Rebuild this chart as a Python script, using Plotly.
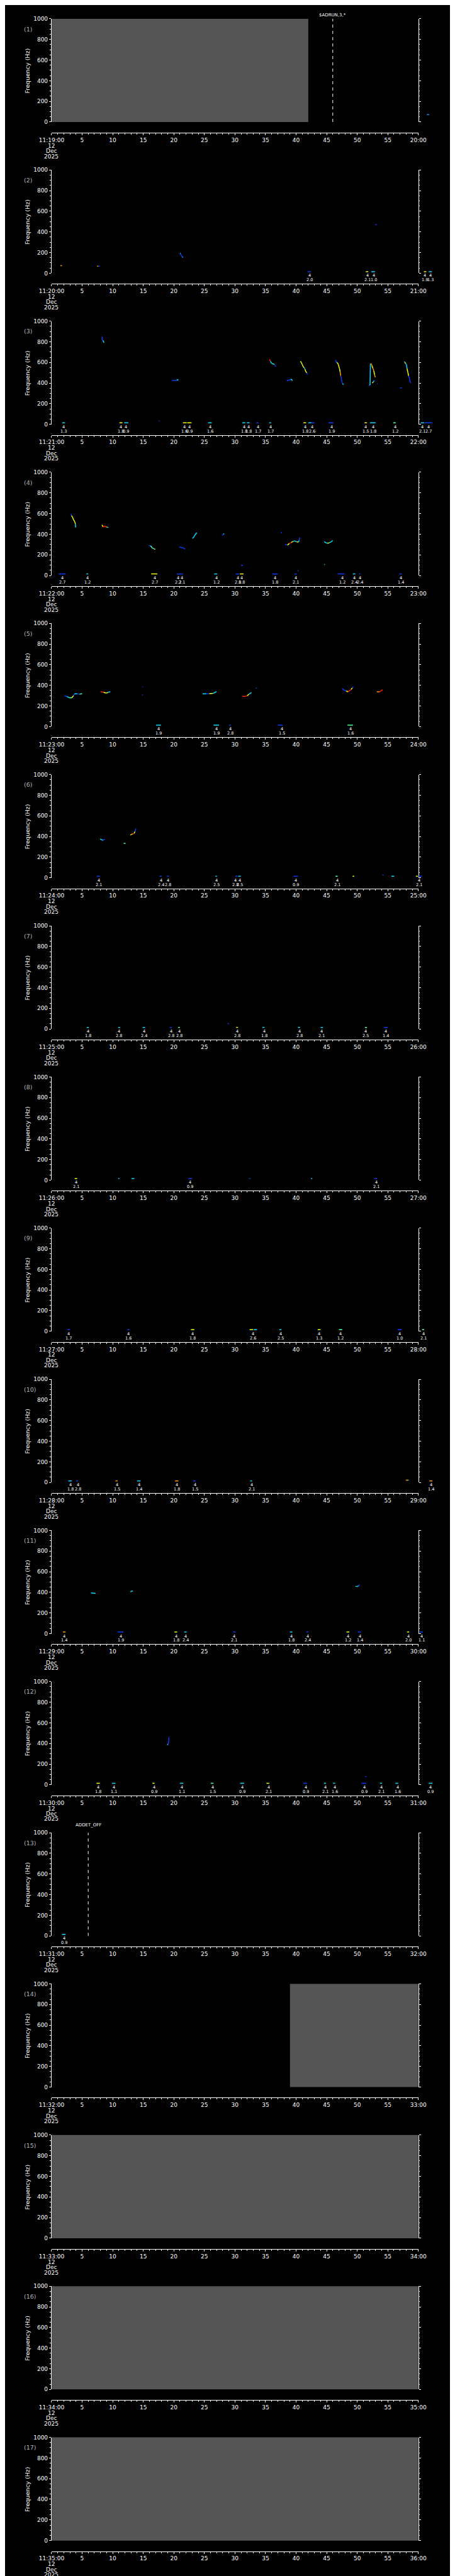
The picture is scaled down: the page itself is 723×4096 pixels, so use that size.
import plotly.graph_objects as go

# ---------------- data ----------------
panel_minutes = list(range(19, 36))          # 11:19 ... 11:35, one minute per panel
date_lines = ["12", "Dec", "2025"]
tick_seconds = list(range(0, 61, 5))
freq_ticks = list(range(0, 1001, 200))
EVENT_F = 15                                  # event bars sit just above 0 Hz

# grey "no data" spans (seconds within the minute)
gray_spans = {1: (0, 42.0), 14: (39.0, 60), 15: (0, 60), 16: (0, 60), 17: (0, 60)}
# dashed marker lines: panel -> (second, text)
marker_lines = {1: (46.0, "$ADRUN,3,*"), 13: (6.0, "ADDET_OFF")}

# tracks: list of (second, Hz, colour code)
tracks_01 = [[(61.4, 72, 'L'), (61.75, 72, 'C')]]
tracks_02 = [
    [(1.45, 72, 'O'), (1.7, 72, 'O')],
    [(7.45, 68, 'O'), (7.65, 68, 'B'), (7.9, 67, 'B')],
    [(21.0, 192, 'C'), (21.1, 188, 'B'), (21.25, 170, 'B'), (21.4, 156, 'C'), (21.5, 152, 'C')],
    [(52.95, 470, 'B'), (53.2, 470, 'B')],
]
tracks_03 = [
    [(8.25, 850, 'B'), (8.3, 820, 'B'), (8.4, 812, 'C'), (8.6, 791, 'C')],
    [(17.55, 35, 'B'), (17.65, 30, 'B')],
    [(19.7, 423, 'B'), (19.95, 428, 'B'), (20.2, 423, 'B'), (20.5, 428, 'C'), (20.75, 434, 'C')],
    [(35.65, 630, 'R'), (35.8, 612, 'C'), (35.95, 595, 'C'), (36.1, 588, 'G'), (36.3, 585, 'C'),
     (36.45, 580, 'B'), (36.6, 565, 'B'), (36.65, 560, 'B')],
    [(38.5, 423, 'B'), (38.8, 428, 'B'), (39.1, 433, 'C'), (39.25, 437, 'C'), (39.4, 423, 'B')],
    [(40.7, 611, 'Y'), (40.85, 600, 'Y'), (41.0, 580, 'Y'), (41.15, 560, 'Y'), (41.3, 550, 'C'),
     (41.45, 535, 'Y'), (41.6, 510, 'Y'), (41.75, 500, 'B'), (41.85, 483, 'B')],
    [(46.45, 623, 'B'), (46.6, 600, 'C'), (46.75, 598, 'Y'), (46.9, 580, 'Y'), (47.0, 560, 'Y'),
     (47.1, 540, 'Y'), (47.2, 510, 'O'), (47.3, 470, 'B'), (47.4, 440, 'B'), (47.5, 415, 'B'),
     (47.6, 395, 'C'), (47.75, 385, 'C')],
    [(51.85, 377, 'B'), (52.0, 380, 'C'), (52.1, 382, 'C'), (52.15, 587, 'O'), (52.3, 587, 'O'),
     (52.4, 570, 'Y'), (52.55, 545, 'O'), (52.7, 520, 'Y'), (52.85, 480, 'O'), (52.95, 455, 'O')],
    [(52.45, 400, 'Y'), (52.6, 410, 'C'), (52.75, 420, 'B'), (52.85, 428, 'B')],
    [(53.25, 393, 'B'), (53.35, 390, 'B')],
    [(57.0, 350, 'B'), (57.3, 357, 'C')],
    [(57.7, 607, 'C'), (57.8, 600, 'Y'), (57.9, 590, 'C'), (58.05, 580, 'C'), (58.15, 540, 'Y'),
     (58.3, 500, 'Y'), (58.4, 470, 'B'), (58.55, 440, 'B'), (58.65, 410, 'B'), (58.8, 403, 'B')],
]
tracks_04 = [
    [(3.17, 597, 'B'), (3.25, 580, 'Y'), (3.4, 570, 'Y'), (3.6, 540, 'Y'), (3.8, 520, 'Y'),
     (3.9, 500, 'C'), (3.95, 465, 'C')],
    [(8.25, 490, 'Y'), (8.45, 470, 'R'), (8.7, 480, 'R'), (8.9, 472, 'O'), (9.1, 468, 'C'), (9.3, 465, 'C')],
    [(15.9, 290, 'B'), (16.2, 288, 'G'), (16.5, 265, 'C'), (16.8, 258, 'Y'), (16.95, 253, 'Y')],
    [(20.9, 277, 'B'), (21.3, 270, 'B'), (21.6, 265, 'B'), (21.85, 258, 'C')],
    [(23.05, 358, 'C'), (23.3, 375, 'C'), (23.5, 395, 'C'), (23.75, 415, 'G')],
    [(27.9, 388, 'B'), (28.1, 400, 'C'), (28.25, 405, 'C')],
    [(31.0, 100, 'B'), (31.3, 98, 'B')],
    [(37.55, 408, 'B'), (37.65, 418, 'B')],
    [(38.2, 300, 'B'), (38.6, 295, 'Y'), (38.9, 310, 'R'), (39.2, 320, 'Y'), (39.5, 330, 'C'),
     (39.8, 335, 'C'), (40.1, 325, 'Y'), (40.4, 325, 'C'), (40.5, 340, 'B'), (40.6, 370, 'B')],
    [(40.25, 47, 'B'), (40.4, 47, 'B')],
    [(44.6, 328, 'C'), (44.8, 320, 'C'), (45.1, 312, 'Y'), (45.4, 316, 'C'), (45.7, 325, 'C'), (46.0, 340, 'C')],
    [(44.6, 105, 'C'), (44.7, 108, 'C')],
]
tracks_05 = [
    [(2.15, 298, 'B'), (2.5, 293, 'C'), (2.9, 280, 'G'), (3.3, 280, 'Y'), (3.6, 300, 'B'),
     (3.75, 318, 'C'), (4.2, 318, 'B'), (4.6, 315, 'G'), (5.0, 320, 'C')],
    [(8.0, 340, 'R'), (8.5, 333, 'Y'), (8.9, 325, 'Y'), (9.2, 330, 'C'), (9.6, 340, 'C')],
    [(14.85, 383, 'B'), (14.95, 383, 'B')],
    [(14.85, 310, 'B'), (14.95, 305, 'B')],
    [(24.7, 318, 'C'), (25.3, 318, 'B'), (25.8, 320, 'Y'), (26.4, 322, 'C'), (26.8, 333, 'C'), (27.0, 340, 'B')],
    [(31.2, 294, 'R'), (31.7, 294, 'R'), (32.0, 300, 'Y'), (32.3, 315, 'C'), (32.7, 330, 'B')],
    [(33.4, 373, 'B'), (33.6, 373, 'B')],
    [(47.55, 370, 'B'), (47.8, 355, 'B'), (48.2, 345, 'Y'), (48.5, 338, 'R'), (48.8, 350, 'R'),
     (49.0, 360, 'Y'), (49.2, 375, 'B'), (49.35, 388, 'B')],
    [(53.2, 338, 'O'), (53.6, 336, 'R'), (53.9, 345, 'R'), (54.15, 358, 'B')],
]
tracks_06 = [
    [(7.95, 375, 'C'), (8.2, 370, 'C'), (8.4, 362, 'B'), (8.7, 375, 'B')],
    [(11.8, 334, 'G'), (12.1, 334, 'Y')],
    [(12.9, 413, 'Y'), (13.1, 422, 'O'), (13.3, 425, 'R'), (13.5, 430, 'Y'), (13.65, 448, 'B'), (13.8, 478, 'B')],
    [(54.1, 26, 'B'), (54.3, 26, 'B')],
]
tracks_07 = [[(28.8, 52, 'B'), (29.0, 52, 'B')]]
tracks_08 = []
tracks_09 = []
tracks_10 = [[(57.95, 22, 'O'), (58.2, 22, 'Y'), (58.35, 22, 'B'), (58.5, 22, 'B')]]
tracks_11 = [
    [(6.45, 394, 'C'), (6.8, 392, 'C'), (7.2, 390, 'B')],
    [(12.9, 405, 'C'), (13.1, 410, 'C'), (13.3, 414, 'C')],
    [(49.7, 458, 'C'), (50.0, 456, 'C'), (50.2, 462, 'B'), (50.4, 475, 'B')],
]
tracks_12 = [
    [(18.95, 385, 'C'), (19.05, 395, 'B'), (19.15, 410, 'B'), (19.2, 460, 'B')],
    [(51.3, 81, 'B'), (51.5, 81, 'B')],
]
tracks_13 = []
tracks_14 = []
tracks_15 = []
tracks_16 = []
tracks_17 = []

# event bars: (start s, end s, colour code)
bars_01 = []
bars_02 = [(41.9, 42.4, 'B'), (51.4, 51.8, 'Y'), (52.3, 52.9, 'C'), (60.9, 61.3, 'Y'), (61.7, 62.2, 'C')]
bars_03 = [(1.75, 2.2, 'C'), (11.1, 11.6, 'Y'), (11.9, 12.55, 'C'), (21.5, 22.1, 'Y'), (22.2, 22.9, 'Y'),
           (25.6, 26.2, 'C'), (31.2, 31.7, 'C'), (31.95, 32.4, 'C'), (33.5, 33.85, 'B'), (35.6, 35.9, 'C'),
           (41.2, 41.65, 'Y'), (42.0, 42.5, 'C'), (42.5, 43.0, 'B'), (45.3, 46.1, 'B'), (51.2, 51.6, 'Y'),
           (52.1, 53.0, 'C'), (55.9, 56.3, 'G'), (60.4, 60.95, 'C'), (61.05, 62.3, 'B')]
bars_04 = [(1.2, 2.3, 'B'), (5.7, 6.0, 'C'), (16.3, 17.3, 'Y'), (20.5, 21.5, 'B'), (26.6, 27.1, 'C'),
           (30.1, 30.7, 'B'), (30.8, 31.4, 'Y'), (36.1, 37.0, 'B'), (39.75, 40.1, 'B'), (46.8, 47.9, 'B'),
           (49.3, 49.7, 'C'), (50.3, 50.5, 'B'), (56.9, 57.3, 'B')]
bars_05 = [(17.1, 17.9, 'C'), (26.5, 27.4, 'C'), (29.05, 29.3, 'B'), (37.0, 37.8, 'B'), (48.4, 49.3, 'G')]
bars_06 = [(7.4, 7.9, 'B'), (17.7, 18.0, 'B'), (18.9, 19.2, 'B'), (26.8, 27.05, 'C'), (30.05, 30.4, 'B'),
           (30.55, 30.95, 'C'), (39.6, 40.3, 'B'), (46.45, 46.8, 'G'), (49.25, 49.5, 'Y'),
           (55.6, 56.05, 'C'), (59.6, 59.95, 'Y'), (59.95, 60.6, 'B')]
bars_07 = [(5.75, 6.1, 'C'), (10.9, 11.2, 'C'), (14.9, 15.3, 'C'), (19.35, 19.7, 'B'), (20.7, 21.0, 'G'),
           (30.2, 30.5, 'Y'), (34.5, 34.85, 'C'), (40.3, 40.65, 'C'), (44.0, 44.4, 'C'), (51.25, 51.6, 'G'),
           (54.4, 55.0, 'B')]
bars_08 = [(3.8, 4.2, 'Y'), (10.9, 11.1, 'C'), (13.1, 13.55, 'C'), (22.4, 23.0, 'B'), (32.3, 32.5, 'B'),
           (42.45, 42.65, 'C'), (52.8, 53.25, 'B')]
bars_09 = [(2.6, 3.0, 'B'), (12.4, 12.75, 'B'), (22.8, 23.35, 'Y'), (32.4, 32.95, 'Y'), (33.05, 33.6, 'C'),
           (37.25, 37.6, 'C'), (43.55, 44.0, 'Y'), (47.0, 47.55, 'G'), (56.6, 57.25, 'B'), (60.6, 60.95, 'G')]
bars_10 = [(2.75, 3.3, 'C'), (4.0, 4.3, 'B'), (10.45, 10.8, 'O'), (14.0, 14.55, 'C'), (20.2, 20.75, 'O'),
           (23.15, 23.55, 'B'), (32.5, 32.8, 'C'), (61.8, 62.3, 'O')]
bars_11 = [(1.85, 2.3, 'O'), (10.8, 11.75, 'B'), (20.1, 20.55, 'Y'), (21.7, 22.1, 'C'), (29.7, 30.1, 'B'),
           (39.0, 39.4, 'C'), (41.7, 42.0, 'B'), (48.25, 48.7, 'Y'), (50.1, 50.6, 'B'), (58.15, 58.5, 'Y'),
           (60.2, 60.75, 'B')]
bars_12 = [(7.35, 7.9, 'Y'), (9.9, 10.45, 'C'), (16.5, 16.85, 'Y'), (21.0, 21.55, 'C'), (26.05, 26.5, 'G'),
           (30.85, 31.5, 'C'), (35.15, 35.6, 'Y'), (41.2, 41.8, 'B'), (44.55, 44.9, 'C'), (46.05, 46.4, 'C'),
           (50.7, 51.45, 'B'), (53.7, 54.05, 'C'), (56.25, 56.7, 'C'), (61.7, 62.3, 'C')]
bars_13 = [(1.7, 2.3, 'C')]
bars_14 = []
bars_15 = []
bars_16 = []
bars_17 = []

# event labels ("4" over the value): (second, value)
labels_01 = []
labels_02 = [(42.2, '2.0'), (51.7, '2.1'), (52.7, '1.0'), (61.1, '1.9'), (62.0, '1.3')]
labels_03 = [(2.0, '1.3'), (11.3, '1.8'), (12.2, '0.9'), (21.7, '1.6'), (22.6, '0.9'), (25.9, '1.6'),
             (31.5, '1.8'), (32.2, '1.8'), (33.8, '1.7'), (35.8, '1.7'), (41.5, '1.8'), (42.6, '2.6'),
             (45.8, '1.9'), (51.4, '1.5'), (52.6, '1.8'), (56.2, '1.2'), (60.6, '2.1'), (61.7, '2.7')]
labels_04 = [(1.8, '2.7'), (5.9, '1.2'), (16.9, '2.7'), (20.7, '2.2'), (21.35, '2.1'), (27.0, '1.2'),
             (30.45, '2.0'), (31.1, '1.8'), (36.6, '1.8'), (39.9, '2.1'), (47.6, '1.2'), (49.5, '2.4'),
             (50.5, '2.4'), (57.1, '1.4')]
labels_05 = [(17.5, '1.9'), (27.0, '1.9'), (29.2, '2.8'), (37.7, '1.5'), (48.9, '1.6')]
labels_06 = [(7.7, '2.1'), (17.9, '2.4'), (19.1, '2.8'), (27.0, '2.5'), (30.1, '2.8'), (30.8, '2.5'),
             (40.0, '0.9'), (46.7, '2.1'), (60.1, '2.1')]
labels_07 = [(6.0, '1.8'), (11.05, '2.8'), (15.1, '2.4'), (19.6, '2.8'), (20.9, '2.8'), (30.4, '2.8'),
             (34.8, '1.8'), (40.6, '2.8'), (44.2, '2.1'), (51.4, '2.5'), (54.7, '1.4')]
labels_08 = [(4.0, '2.1'), (22.65, '0.9'), (53.1, '2.1')]
labels_09 = [(2.8, '1.7'), (12.6, '1.6'), (23.1, '1.8'), (33.0, '2.6'), (37.5, '2.5'), (43.8, '1.3'),
             (47.3, '1.2'), (56.9, '1.0'), (60.8, '2.1')]
labels_10 = [(3.1, '1.8'), (4.3, '2.8'), (10.7, '1.5'), (14.3, '1.4'), (20.5, '1.8'), (23.5, '1.5'),
             (32.7, '2.1'), (62.1, '1.4')]
labels_11 = [(2.1, '1.4'), (11.3, '1.9'), (20.35, '1.8'), (21.9, '2.4'), (29.9, '2.1'), (39.2, '1.8'),
             (41.9, '2.4'), (48.5, '1.2'), (50.4, '1.4'), (58.4, '2.0'), (60.55, '1.1')]
labels_12 = [(7.6, '1.8'), (10.25, '1.1'), (16.8, '0.9'), (21.3, '1.1'), (26.4, '1.5'), (31.2, '0.9'),
             (35.5, '2.1'), (41.6, '0.9'), (44.8, '2.1'), (46.3, '1.6'), (51.2, '0.9'), (53.9, '2.1'),
             (56.6, '1.6'), (62.0, '0.9')]
labels_13 = [(2.05, '0.9')]
labels_14 = []
labels_15 = []
labels_16 = []
labels_17 = []
EVENT_CODE = "4"

# ---------------- styling / layout ----------------
COLORS = {'B': '#0a3cff', 'L': '#0096ff', 'C': '#00dcff', 'G': '#4dffa6',
          'Y': '#f2ff00', 'O': '#ff9a00', 'R': '#ff2200'}
GRAY = '#555555'
FONT = 'DejaVu Sans'
W, H = 723, 4096
REF_W, REF_H = 1024.0, 5802.0
N = 17
PANEL_H = REF_H / N


def xp(px):
    return px / REF_W


def yp(py):
    return 1 - py / REF_H


TRACKS = [tracks_01, tracks_02, tracks_03, tracks_04, tracks_05, tracks_06, tracks_07, tracks_08, tracks_09,
          tracks_10, tracks_11, tracks_12, tracks_13, tracks_14, tracks_15, tracks_16, tracks_17]
BARS = [bars_01, bars_02, bars_03, bars_04, bars_05, bars_06, bars_07, bars_08, bars_09,
        bars_10, bars_11, bars_12, bars_13, bars_14, bars_15, bars_16, bars_17]
LABELS = [labels_01, labels_02, labels_03, labels_04, labels_05, labels_06, labels_07, labels_08, labels_09,
          labels_10, labels_11, labels_12, labels_13, labels_14, labels_15, labels_16, labels_17]

XD0, XD1, XE1 = xp(80), xp(945), xp(1010)
XE_MAX = 60 * (XE1 - XD0) / (XD1 - XD0)

fig = go.Figure()
layout = dict(width=W, height=H, margin=dict(l=0, r=0, t=0, b=0, pad=0),
              paper_bgcolor='black', plot_bgcolor='rgba(0,0,0,0)', showlegend=False, hovermode=False)
shapes = []
ann = []
tickfont = dict(family=FONT, size=9, color='white')
yminor = dict(dtick=50, tick0=0, ticks='outside', ticklen=1.5, tickwidth=1, tickcolor='white', showgrid=False)

for k in range(N):
    i = k + 1
    o = k * PANEL_H
    m = panel_minutes[k]
    xs = '' if i == 1 else str(i)
    xe = str(N + i)
    yr = str(2 * N + i)
    ticktext = ["11:%02d:00" % m] + [str(s) for s in tick_seconds[1:-1]] + ["%02d:00" % (m + 1)]

    layout['xaxis' + xs] = dict(
        domain=[XD0, XD1], range=[0, 60], anchor='free', position=yp(o + 281),
        showline=True, linecolor='white', linewidth=1, ticks='outside', ticklen=3, tickwidth=1,
        tickcolor='white', tickmode='array', tickvals=tick_seconds, ticktext=ticktext, tickfont=tickfont,
        showgrid=False, zeroline=False, fixedrange=True,
        minor=dict(dtick=1, tick0=0, ticks='outside', ticklen=2, tickwidth=1, tickcolor='white', showgrid=False))
    layout['yaxis' + xs] = dict(
        domain=[yp(o + 257), yp(o + 24)], range=[0, 1000], anchor='x' + xs,
        showline=True, linecolor='white', linewidth=1, ticks='outside', ticklen=3,
        tickwidth=1, tickcolor='white', tickmode='array', tickvals=freq_ticks, tickfont=tickfont,
        showgrid=False, zeroline=False, fixedrange=True, minor=yminor)
    # right-hand frequency axis (ticks only)
    layout['yaxis' + yr] = dict(
        overlaying='y' + xs, side='right', range=[0, 1000], anchor='x' + xs,
        showline=True, linecolor='white', linewidth=1, ticks='outside', ticklen=3,
        tickwidth=1, tickcolor='white', tickmode='array', tickvals=freq_ticks, showticklabels=False,
        showgrid=False, zeroline=False, fixedrange=True, minor=yminor)
    layout['xaxis' + xe] = dict(domain=[XD0, XE1], range=[0, XE_MAX], anchor='y' + xs, visible=False,
                                fixedrange=True)

    # empty traces so the subplots exist
    fig.add_trace(go.Scatter(x=[], y=[], xaxis='x' + xs, yaxis='y' + xs, mode='lines'))
    fig.add_trace(go.Scatter(x=[], y=[], xaxis='x' + xs, yaxis='y' + yr, mode='lines'))

    # grey no-data span
    if i in gray_spans:
        a, b = gray_spans[i]
        shapes.append(dict(type='rect', xref='x' + xs, yref='y' + xs + ' domain', x0=a, x1=b, y0=0, y1=1,
                           fillcolor=GRAY, line=dict(width=0), layer='below'))
    # dashed marker line
    if i in marker_lines:
        t, txt = marker_lines[i]
        shapes.append(dict(type='line', xref='x' + xs, yref='y' + xs + ' domain', x0=t, x1=t, y0=0, y1=1,
                           line=dict(color='white', width=1, dash='5px,5px'), layer='above'))
        ty = 15.7 if i == 1 else 7.0
        ann.append(dict(x=t, xref='x' + xs, y=yp(o + ty), yref='paper', text=txt, showarrow=False,
                        xanchor='center', yanchor='middle', font=dict(family=FONT, size=7, color='white')))

    # tracks, grouped by colour into segments
    segs = {}
    for tr in TRACKS[k]:
        for p, q in zip(tr[:-1], tr[1:]):
            d = segs.setdefault(p[2], ([], []))
            d[0].extend([p[0], q[0], None])
            d[1].extend([p[1], q[1], None])
    for c, (sx, sy) in segs.items():
        fig.add_trace(go.Scatter(x=sx, y=sy, xaxis='x' + xe, yaxis='y' + xs, mode='lines',
                                 line=dict(color=COLORS[c], width=1.5), hoverinfo='skip'))
    # event bars
    bsegs = {}
    for t0, t1, c in BARS[k]:
        d = bsegs.setdefault(c, ([], []))
        d[0].extend([t0, t1, None])
        d[1].extend([EVENT_F, EVENT_F, None])
    for c, (sx, sy) in bsegs.items():
        fig.add_trace(go.Scatter(x=sx, y=sy, xaxis='x' + xe, yaxis='y' + xs, mode='lines',
                                 line=dict(color=COLORS[c], width=1.5), hoverinfo='skip'))
    if not segs and not bsegs:
        fig.add_trace(go.Scatter(x=[], y=[], xaxis='x' + xe, yaxis='y' + xs, mode='lines'))
    # event labels
    for t, v in LABELS[k]:
        ann.append(dict(x=t, xref='x' + xe, y=yp(o + 262.7), yref='paper', text=EVENT_CODE, showarrow=False,
                        xanchor='center', yanchor='middle', font=dict(family=FONT, size=6.5, color='white')))
        ann.append(dict(x=t, xref='x' + xe, y=yp(o + 272.5), yref='paper', text=v, showarrow=False,
                        xanchor='center', yanchor='middle', font=dict(family=FONT, size=6.5, color='white')))

    # date lines under the first time label
    for j, s in enumerate(date_lines):
        ann.append(dict(x=0, xref='x' + xs, y=yp(o + 310.5 + 12 * j), yref='paper', text=s, showarrow=False,
                        xanchor='center', yanchor='middle', font=dict(family=FONT, size=9, color='white')))
    # panel number and axis title
    ann.append(dict(x=xp(12), xref='paper', y=yp(o + 47), yref='paper', text='(%d)' % i, showarrow=False,
                    xanchor='left', yanchor='middle', font=dict(family=FONT, size=9.5, color='#b4b4b4')))
    ann.append(dict(x=xp(23), xref='paper', y=yp(o + 140.5), yref='paper', text='Frequency (Hz)',
                    showarrow=False, textangle=-90, xanchor='center', yanchor='middle',
                    font=dict(family=FONT, size=9.5, color='white')))

layout['shapes'] = shapes
layout['annotations'] = ann
fig.update_layout(**layout)
fig.write_html("out.html")
